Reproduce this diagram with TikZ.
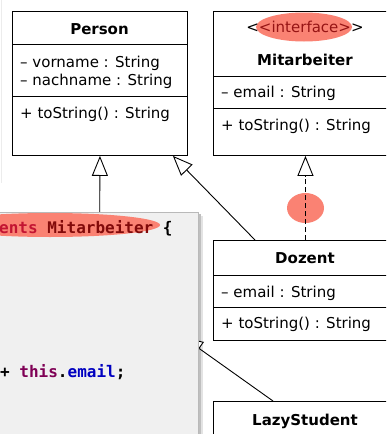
\documentclass[tikz,border=0pt]{standalone}
\usepackage{fontspec}
\setmainfont{DejaVu Sans}
\newfontfamily\codefont{DejaVu Sans Mono}
\usetikzlibrary{arrows.meta,calc}
\definecolor{hl}{RGB}{250,130,115}
\definecolor{kw}{RGB}{127,0,85}
\definecolor{fld}{RGB}{0,0,192}
\definecolor{hlred}{RGB}{195,20,50}
\definecolor{hldark}{RGB}{130,10,10}
\definecolor{hltext}{RGB}{150,20,20}
\definecolor{panel}{RGB}{240,240,240}
\begin{document}
\begin{tikzpicture}[x=1pt,y=-1pt,
  box/.style={draw=black, line width=0.9pt, fill=white, inner sep=0pt, anchor=north west},
  sepline/.style={draw=black, line width=0.9pt},
  txt/.style={anchor=base west, inner sep=0pt, font=\fontsize{15pt}{18pt}\selectfont},
  title/.style={anchor=base, inner sep=0pt, font=\fontsize{15pt}{18pt}\selectfont\bfseries},
  code/.style={anchor=base west, inner sep=0pt, font=\codefont\fontsize{16pt}{19pt}\selectfont\bfseries},
  gen/.style={line width=0.9pt, -{Triangle[open, length=20pt, width=16pt, fill=white]}},
  real/.style={gen, dash pattern=on 5pt off 3pt},
  hlfill/.style={fill=hl}
]
\useasboundingbox (0,0) rectangle (386,434);
\clip (0,0) rectangle (386,434);
\fill[white] (0,0) rectangle (386,434);
\draw[gray!15, line width=1pt] (1,0) -- (1,183);

% boxes
\node[box, minimum width=175pt, minimum height=144pt] (person) at (12,11) {};
\node[box, minimum width=184pt, minimum height=144pt] (mitarb) at (213,11) {};
\node[box, minimum width=184pt, minimum height=100pt] (dozent) at (213,240) {};
\node[box, minimum width=184pt, minimum height=60pt] (lazy) at (213,401) {};

\draw[sepline] ($(person.north west)+(0,33)$) -- ($(person.north east)+(0,33)$);
\draw[sepline] ($(person.north west)+(0,85)$) -- ($(person.north east)+(0,85)$);
\draw[sepline] ($(mitarb.north west)+(0,65)$) -- ($(mitarb.north east)+(0,65)$);
\draw[sepline] ($(mitarb.north west)+(0,97)$) -- ($(mitarb.north east)+(0,97)$);
\draw[sepline] ($(dozent.north west)+(0,35)$) -- ($(dozent.north east)+(0,35)$);
\draw[sepline] ($(dozent.north west)+(0,67)$) -- ($(dozent.north east)+(0,67)$);

% texts
\node[title] (pt) at (99.5,34.5) {Person};
\node[txt] (p1) at (20,67) {– vorname : String};
\node[txt] (p2) at (20,85) {– nachname : String};
\node[txt] (p3) at (20,118) {+ toString() : String};

\fill[hlfill] (304,27) ellipse [x radius=48pt, y radius=14.5pt];
\node[anchor=base, inner sep=0pt, font=\fontsize{15pt}{18pt}\selectfont] (mst) at (305,32) {<\textcolor{hltext}{<interface>}>};
\node[title] (mt) at (305,65) {Mitarbeiter};
\node[txt] (m1) at (221,97) {– email : String};
\node[txt] (m2) at (221,130) {+ toString() : String};

\node[title] (dt) at (305,263) {Dozent};
\node[txt] (d1) at (221,297) {– email : String};
\node[txt] (d2) at (221,328) {+ toString() : String};

\node[title] (lt) at (305,425) {LazyStudent};

% panel shadow
\fill[gray!50] (198,214) rectangle (201,450);
\fill[gray!22] (201,216) rectangle (203,450);

% connectors
\fill[hlfill] (305.5,208) ellipse [x radius=18.5pt, y radius=15pt];
\coordinate (studsrc) at (99.5,260);
\draw[gen] (studsrc) -- (person.south);
\draw[gen] ($(dozent.north west)+(42,0)$) -- ($(person.south east)+(-15,0)$);
\draw[real] (dozent.north) -- (mitarb.south);
\coordinate (lazytip) at (183,337);
\draw[gen] ($(lazy.north west)+(60,0)$) -- (lazytip);

% code panel
\fill[panel] (-20,212) rectangle (198,450);
\draw[gray!55, line width=0.8pt] (-20,212.5) -- (198,212.5) -- (198,450);

\fill[hlfill] (50,225) ellipse [x radius=110pt, y radius=12pt];
\node[code] (c1) at (-1,233) {\textcolor{hlred}{ents} \textcolor{hldark}{Mitarbeiter} \{};
\node[code] (c2) at (0,377) {+ \textcolor{kw}{this}.\textcolor{fld}{email};};
\end{tikzpicture}
\end{document}
